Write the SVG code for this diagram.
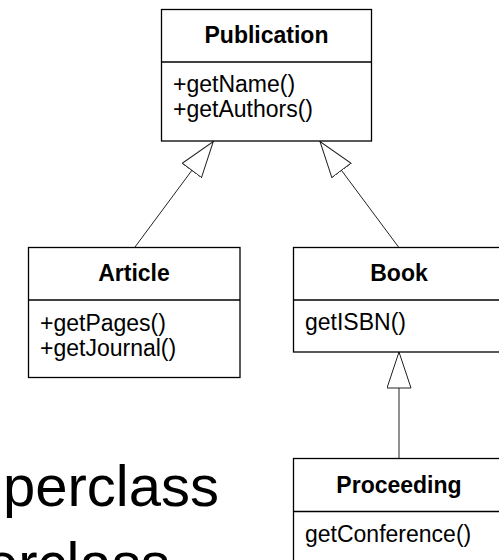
<svg xmlns="http://www.w3.org/2000/svg" width="499" height="560" viewBox="0 0 499 560">
  <style>
    .box { fill: white; stroke: #000; stroke-width: 1.3; }
    .div { stroke: #000; stroke-width: 1.3; }
    .title { font-family: "Liberation Sans", Arial, sans-serif; font-size: 23px; font-weight: bold; text-anchor: middle; fill: #000; }
    .member { font-family: "Liberation Sans", Arial, sans-serif; font-size: 23px; fill: #000; }
    .bg { font-family: "Liberation Sans", Arial, sans-serif; font-size: 58px; fill: #000; }
    .conn { stroke: #222; stroke-width: 1; fill: none; }
  </style>
  <defs>
    <marker id="gen" viewBox="0 0 37 25" refX="36.5" refY="12.5" markerWidth="37" markerHeight="25" orient="auto" markerUnits="userSpaceOnUse">
      <path d="M0.5,0.5 L36.5,12.5 L0.5,24.5 Z" fill="white" stroke="#222" stroke-width="1"/>
    </marker>
  </defs>
  <rect width="499" height="560" fill="white"/>

  <g id="background-text">
    <text class="bg" x="3" y="506">perclass</text>
    <text class="bg" x="-14" y="583">erclass</text>
  </g>

  <g id="connectors">
    <line class="conn" x1="135" y1="247" x2="213.3" y2="141.5" marker-end="url(#gen)"/>
    <line class="conn" x1="398.5" y1="247" x2="320" y2="141.5" marker-end="url(#gen)"/>
    <line class="conn" x1="399" y1="458.5" x2="399" y2="352" marker-end="url(#gen)"/>
  </g>

  <g id="Publication">
    <rect class="box" x="161.5" y="9.5" width="210" height="131.5"/>
    <line class="div" x1="161.5" y1="62" x2="371.5" y2="62"/>
    <text class="title" x="266.5" y="43">Publication</text>
    <text class="member" x="173" y="92">+getName()</text>
    <text class="member" x="173" y="117">+getAuthors()</text>
  </g>

  <g id="Article">
    <rect class="box" x="28.5" y="247.5" width="211.5" height="130"/>
    <line class="div" x1="28.5" y1="300" x2="240" y2="300"/>
    <text class="title" x="134" y="281">Article</text>
    <text class="member" x="40" y="331">+getPages()</text>
    <text class="member" x="40" y="356">+getJournal()</text>
  </g>

  <g id="Book">
    <rect class="box" x="293.5" y="247.5" width="212" height="104.5"/>
    <line class="div" x1="293.5" y1="300" x2="505.5" y2="300"/>
    <text class="title" x="399" y="281">Book</text>
    <text class="member" x="305" y="330">getISBN()</text>
  </g>

  <g id="Proceeding">
    <rect class="box" x="293.5" y="458.5" width="212" height="120"/>
    <line class="div" x1="293.5" y1="511.5" x2="505.5" y2="511.5"/>
    <text class="title" x="399" y="493">Proceeding</text>
    <text class="member" x="305" y="542">getConference()</text>
  </g>
</svg>
